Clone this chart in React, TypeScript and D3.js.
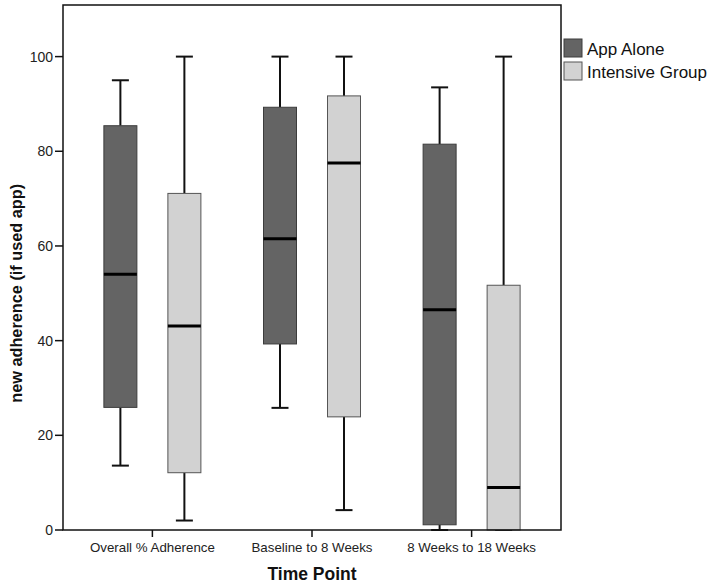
import React from "react";
import * as d3 from "d3";

const categories = ["Overall % Adherence", "Baseline to 8 Weeks", "8 Weeks to 18 Weeks"];
const groups = ["App Alone", "Intensive Group"];
const groupColors = ["#646464", "#d2d2d2"];
const groupStrokes = ["#3c3c3c", "#555555"];

// [min whisker, Q1, median, Q3, max whisker] per category
const appAlone = [
  [13.6, 25.9, 54.0, 85.4, 95.0],
  [25.8, 39.3, 61.5, 89.3, 100],
  [0.0, 1.1, 46.5, 81.5, 93.5],
];
const intensive = [
  [2.0, 12.1, 43.1, 71.1, 100],
  [4.2, 23.9, 77.5, 91.7, 100],
  [0.0, 0.0, 9.0, 51.7, 100],
];
const yTicks = [0, 20, 40, 60, 80, 100];

export default function App() {
  const W = 720, H = 586;
  const left = 63, right = 561, top = 5, bottom = 530;
  const x = d3.scaleBand<string>().domain(categories).range([left, right]).paddingOuter(0.06).paddingInner(0);
  const xg = d3.scalePoint<string>().domain(groups).range([-32, 32]);
  const y = d3.scaleLinear().domain([0, 110.9]).range([bottom, top]);
  const boxW = 33;
  const capW = 17;
  const font = "'Liberation Sans', Arial, sans-serif";
  const series = [appAlone, intensive];

  return (
    <svg width={W} height={H} style={{ position: "absolute", left: 0, top: 0, background: "#fff" }} fontFamily={font}>
      <rect x={0} y={0} width={W} height={H} fill="#fff" />
      {series.map((data, gi) =>
        data.map((s, ci) => {
          const cx = x(categories[ci])! + x.bandwidth() / 2 + xg(groups[gi])!;
          const [lo, q1, med, q3, hi] = s;
          return (
            <g key={`${gi}-${ci}`}>
              <line x1={cx} x2={cx} y1={y(hi)} y2={y(q3)} stroke="#111" strokeWidth={2} />
              <line x1={cx} x2={cx} y1={y(q1)} y2={y(lo)} stroke="#111" strokeWidth={2} />
              <line x1={cx - capW / 2} x2={cx + capW / 2} y1={y(hi)} y2={y(hi)} stroke="#111" strokeWidth={2} />
              <line x1={cx - capW / 2} x2={cx + capW / 2} y1={y(lo)} y2={y(lo)} stroke="#111" strokeWidth={2} />
              <rect x={cx - boxW / 2} y={y(q3)} width={boxW} height={y(q1) - y(q3)} fill={groupColors[gi]} stroke={groupStrokes[gi]} strokeWidth={1} />
              <line x1={cx - boxW / 2} x2={cx + boxW / 2} y1={y(med)} y2={y(med)} stroke="#000" strokeWidth={3} />
            </g>
          );
        })
      )}
      <rect x={left} y={top} width={right - left} height={bottom - top} fill="none" stroke="#111" strokeWidth={1.5} />
      {yTicks.map((t) => (
        <g key={t}>
          <line x1={left - 8} x2={left} y1={y(t)} y2={y(t)} stroke="#111" strokeWidth={1.5} />
          <text x={left - 10} y={y(t)} dy="0.35em" textAnchor="end" fontSize={14} fill="#222">{t}</text>
        </g>
      ))}
      {categories.map((c) => {
        const cx = x(c)! + x.bandwidth() / 2;
        return (
          <g key={c}>
            <line x1={cx} x2={cx} y1={bottom} y2={bottom + 7} stroke="#111" strokeWidth={1.5} />
            <text x={cx} y={552} textAnchor="middle" fontSize={13.3} fill="#222">{c}</text>
          </g>
        );
      })}
      <text x={312} y={580} textAnchor="middle" fontSize={17.5} fontWeight="bold" fill="#111">Time Point</text>
      <text transform={`translate(22,${y(50)}) rotate(-90)`} textAnchor="middle" fontSize={16.3} fontWeight="bold" fill="#111">new adherence (if used app)</text>
      {groups.map((g, i) => (
        <g key={g}>
          <rect x={564} y={39 + i * 23} width={18} height={18} fill={groupColors[i]} stroke={groupStrokes[i]} strokeWidth={1} />
          <text x={587} y={55 + i * 23} fontSize={17} fill="#111">{g}</text>
        </g>
      ))}
    </svg>
  );
}
